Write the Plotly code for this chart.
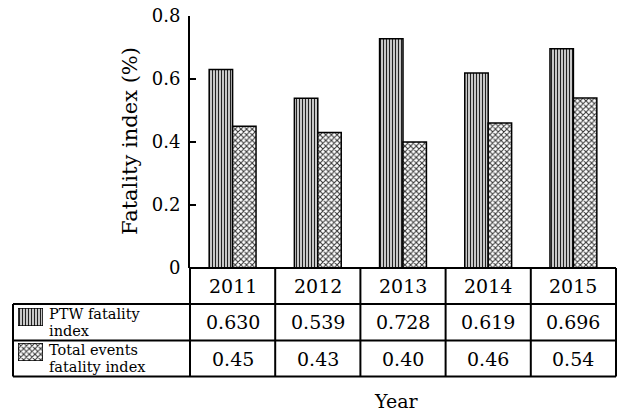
import plotly.graph_objects as go

years = ["2011", "2012", "2013", "2014", "2015"]
ptw_values = [0.630, 0.539, 0.728, 0.619, 0.696]
total_values = [0.45, 0.43, 0.40, 0.46, 0.54]
ptw_labels = ["0.630", "0.539", "0.728", "0.619", "0.696"]
total_labels = ["0.45", "0.43", "0.40", "0.46", "0.54"]
y_ticks = [0, 0.2, 0.4, 0.6, 0.8]
y_tick_text = ["0", "0.2", "0.4", "0.6", "0.8"]

W, H = 617, 414
FONT = "DejaVu Serif"

def px(x):
    return x / W

def py(y):
    return 1 - y / H

x_axis = 190
x_right = 616
y_top = 16
y_zero = 268
row_lines = [268, 304, 340.5, 376.5]
x_table_left = 13

PTW_PAT = dict(shape="|", size=3, solidity=0.5, fgcolor="#222", bgcolor="white")
TOT_PAT = dict(shape="x", size=4, solidity=0.45, fgcolor="#333", bgcolor="white")

fig = go.Figure()
fig.add_trace(go.Bar(
    x=years, y=ptw_values, name="PTW fatality index",
    marker=dict(color="white", line=dict(color="black", width=1.5), pattern=PTW_PAT),
    xaxis="x", yaxis="y", showlegend=False))
fig.add_trace(go.Bar(
    x=years, y=total_values, name="Total events fatality index",
    marker=dict(color="white", line=dict(color="black", width=1.5), pattern=TOT_PAT),
    xaxis="x", yaxis="y", showlegend=False))

sw = [(308, 326), (343, 361)]
for i, pat in enumerate([PTW_PAT, TOT_PAT]):
    fig.add_trace(go.Bar(
        x=[0], y=[1], width=[1],
        marker=dict(color="white", line=dict(color="black", width=1.5), pattern=pat),
        xaxis="x%d" % (i + 2), yaxis="y%d" % (i + 2), showlegend=False, hoverinfo="skip"))

layout = dict(
    template="none",
    width=W, height=H, autosize=False,
    margin=dict(l=0, r=0, t=0, b=0, pad=0, autoexpand=False),
    paper_bgcolor="white", plot_bgcolor="white",
    showlegend=False,
    barmode="group", bargap=0.45, bargroupgap=0,
    font=dict(family=FONT, color="black"),
    xaxis=dict(type="category", domain=[px(x_axis), px(x_right)], range=[-0.5, 4.5], automargin=False,
               showticklabels=False, showgrid=False, zeroline=False, ticks="",
               showline=False, fixedrange=True),
    yaxis=dict(domain=[py(y_zero), py(y_top)], range=[0, 0.8], automargin=False,
               tickvals=y_ticks, ticktext=y_tick_text, ticks="inside", ticklen=6,
               tickwidth=1.5, tickcolor="black",
               showline=True, linecolor="black", linewidth=2,
               showgrid=False, zeroline=False, tickfont=dict(size=18, family=FONT),
               ticklabelstandoff=4, fixedrange=True),
)
for i, (y0, y1) in enumerate(sw):
    layout["xaxis%d" % (i + 2)] = dict(domain=[px(18), px(43)], range=[-0.5, 0.5], visible=False,
                                       anchor="y%d" % (i + 2), fixedrange=True, automargin=False)
    layout["yaxis%d" % (i + 2)] = dict(domain=[py(y1), py(y0)], range=[0, 1], visible=False,
                                       anchor="x%d" % (i + 2), fixedrange=True, automargin=False)
fig.update_layout(**layout)

shapes = []
col_w = (x_right - x_axis) / 5
col_edges = [x_axis + col_w * k for k in range(6)]

def line(x0, y0, x1, y1, w=2):
    shapes.append(dict(type="line", xref="paper", yref="paper",
                       x0=px(x0), y0=py(y0), x1=px(x1), y1=py(y1),
                       line=dict(color="black", width=w)))

line(x_axis, row_lines[0], x_right, row_lines[0])
for yl in row_lines[1:]:
    line(x_table_left, yl, x_right, yl)
line(x_table_left, row_lines[1], x_table_left, row_lines[3])
for xe in col_edges:
    line(xe, row_lines[0], xe, row_lines[3])
fig.update_layout(shapes=shapes)

ann = []
def text(x, y, s, size=18, xanchor="center", yanchor="middle", angle=0):
    ann.append(dict(x=px(x), y=py(y), xref="paper", yref="paper", text=s, showarrow=False,
                    xanchor=xanchor, yanchor=yanchor, textangle=angle,
                    font=dict(size=size, family=FONT, color="black")))

row_centers = [(row_lines[k] + row_lines[k + 1]) / 2 for k in range(3)]
for k, yr in enumerate(years):
    cx = (col_edges[k] + col_edges[k + 1]) / 2
    text(cx, row_centers[0], yr, size=19)
    text(cx, row_centers[1], ptw_labels[k], size=19)
    text(cx, row_centers[2], total_labels[k], size=19)

text(47, 313.5, "PTW fatality", size=14.5, xanchor="left")
text(47, 330.5, "index", size=14.5, xanchor="left")
text(47, 349.5, "Total events", size=14.5, xanchor="left")
text(47, 366.5, "fatality index", size=14.5, xanchor="left")
text(396, 413.5, "Year", size=19, yanchor="bottom")
text(130, 141, "Fatality index (%)", size=21, angle=-90)
fig.update_layout(annotations=ann)

fig.write_html("out.html", config={"displayModeBar": False, "staticPlot": True},
               post_script="document.documentElement.style.margin='0';document.documentElement.style.overflow='hidden';document.body.style.margin='0';document.body.style.padding='0';document.body.style.overflow='hidden';")
